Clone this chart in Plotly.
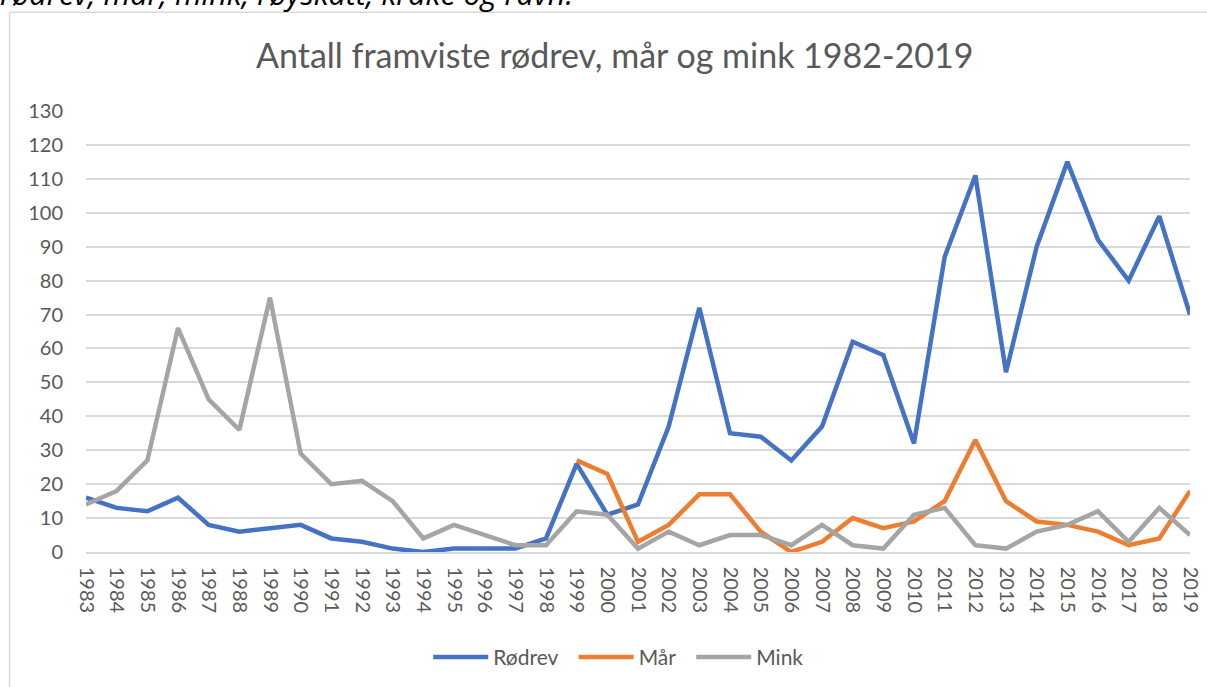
import plotly.graph_objects as go

years = list(range(1983, 2020))
rodrev = [16, 13, 12, 16, 8, 6, 7, 8, 4, 3, 1, 0, 1, 1, 1, 4, 26, 11, 14, 37,
          72, 35, 34, 27, 37, 62, 58, 32, 87, 111, 53, 90, 115, 92, 80, 99, 70]
maar = [None] * 16 + [27, 23, 3, 8, 17, 17, 6, 0, 3, 10, 7, 9, 15, 33, 15, 9, 8, 6, 2, 4, 18]
mink = [14, 18, 27, 66, 45, 36, 75, 29, 20, 21, 15, 4, 8, 5, 2, 2, 12, 11, 1, 6,
        2, 5, 5, 2, 8, 2, 1, 11, 13, 2, 1, 6, 8, 12, 3, 13, 5]
y_ticks = list(range(0, 131, 10))
names = ["Rødrev", "Mår", "Mink"]

colors = ["#4472C4", "#ED7D31", "#A5A5A5"]
series = [rodrev, maar, mink]

FONT = "Lato"
TXT = "#595959"
PAD = "\u00a0\u00a0"  # small extra space between legend entries

fig = go.Figure()
for i, (name, vals, col) in enumerate(zip(names, series, colors)):
    label = name + (PAD if i < len(names) - 1 else "")
    fig.add_trace(go.Scatter(x=years, y=vals, name=label, mode="lines",
                             line=dict(color=col, width=4.5), connectgaps=False))

W, H = 1207, 687
L, T = 86, 110.7
R = W - 1190.5
B = H - 551.7
pw = W - L - R
ph = H - T - B

def px_x(p):
    return (p - L) / pw

def px_y(p):
    return (H - B - p) / ph

fig.update_layout(
    width=W, height=H,
    margin=dict(l=L, r=R, t=T, b=B, autoexpand=False),
    paper_bgcolor="white", plot_bgcolor="white",
    font=dict(family=FONT, color=TXT, size=20),
    title=dict(text="Antall framviste rødrev, mår og mink 1982-2019",
               font=dict(family=FONT, size=34, color=TXT),
               x=px_x(615), xref="paper", xanchor="center",
               y=1 - 56.5 / H, yref="container", yanchor="middle"),
    xaxis=dict(range=[1983, 2019], tickmode="array", tickvals=years,
               ticktext=[str(y) for y in years], tickangle=90,
               showgrid=False, showline=True, linecolor="#D9D9D9", linewidth=1.5,
               ticks="", ticklabelstandoff=9,
               tickfont=dict(family=FONT, size=20, color=TXT), zeroline=False),
    yaxis=dict(range=[0, 130], tickmode="array", tickvals=y_ticks,
               showgrid=True, gridcolor="#D9D9D9", gridwidth=1.5,
               zeroline=False, showline=False, ticks="", ticklabelstandoff=22,
               tickfont=dict(family=FONT, size=20, color=TXT)),
    legend=dict(orientation="h", x=px_x(619), xanchor="center",
                y=px_y(657), yanchor="middle", itemwidth=55,
                font=dict(family=FONT, size=21, color=TXT),
                traceorder="normal", bgcolor="rgba(0,0,0,0)"),
    showlegend=True,
)

# chart frame: only its top and left edges are inside the picture
frame = dict(color="#D9D9D9", width=1.5)
fig.add_shape(type="line", xref="paper", yref="paper",
              x0=px_x(9.5), x1=px_x(1220), y0=px_y(12), y1=px_y(12), line=frame, layer="below")
fig.add_shape(type="line", xref="paper", yref="paper",
              x0=px_x(9.5), x1=px_x(9.5), y0=px_y(12), y1=px_y(700), line=frame, layer="below")

fig.add_annotation(text="rødrev, mår, mink, røyskatt, kråke og ravn.",
                   xref="paper", yref="paper", x=px_x(-2), y=px_y(-7.5),
                   xanchor="left", yanchor="middle", showarrow=False,
                   font=dict(family="Open Sans", size=30.5, color="#000000", style="italic"))

fig.write_html("out.html",
               config={"displayModeBar": False},
               post_script="document.body.style.margin='0';"
                           "document.body.style.overflow='hidden';")
